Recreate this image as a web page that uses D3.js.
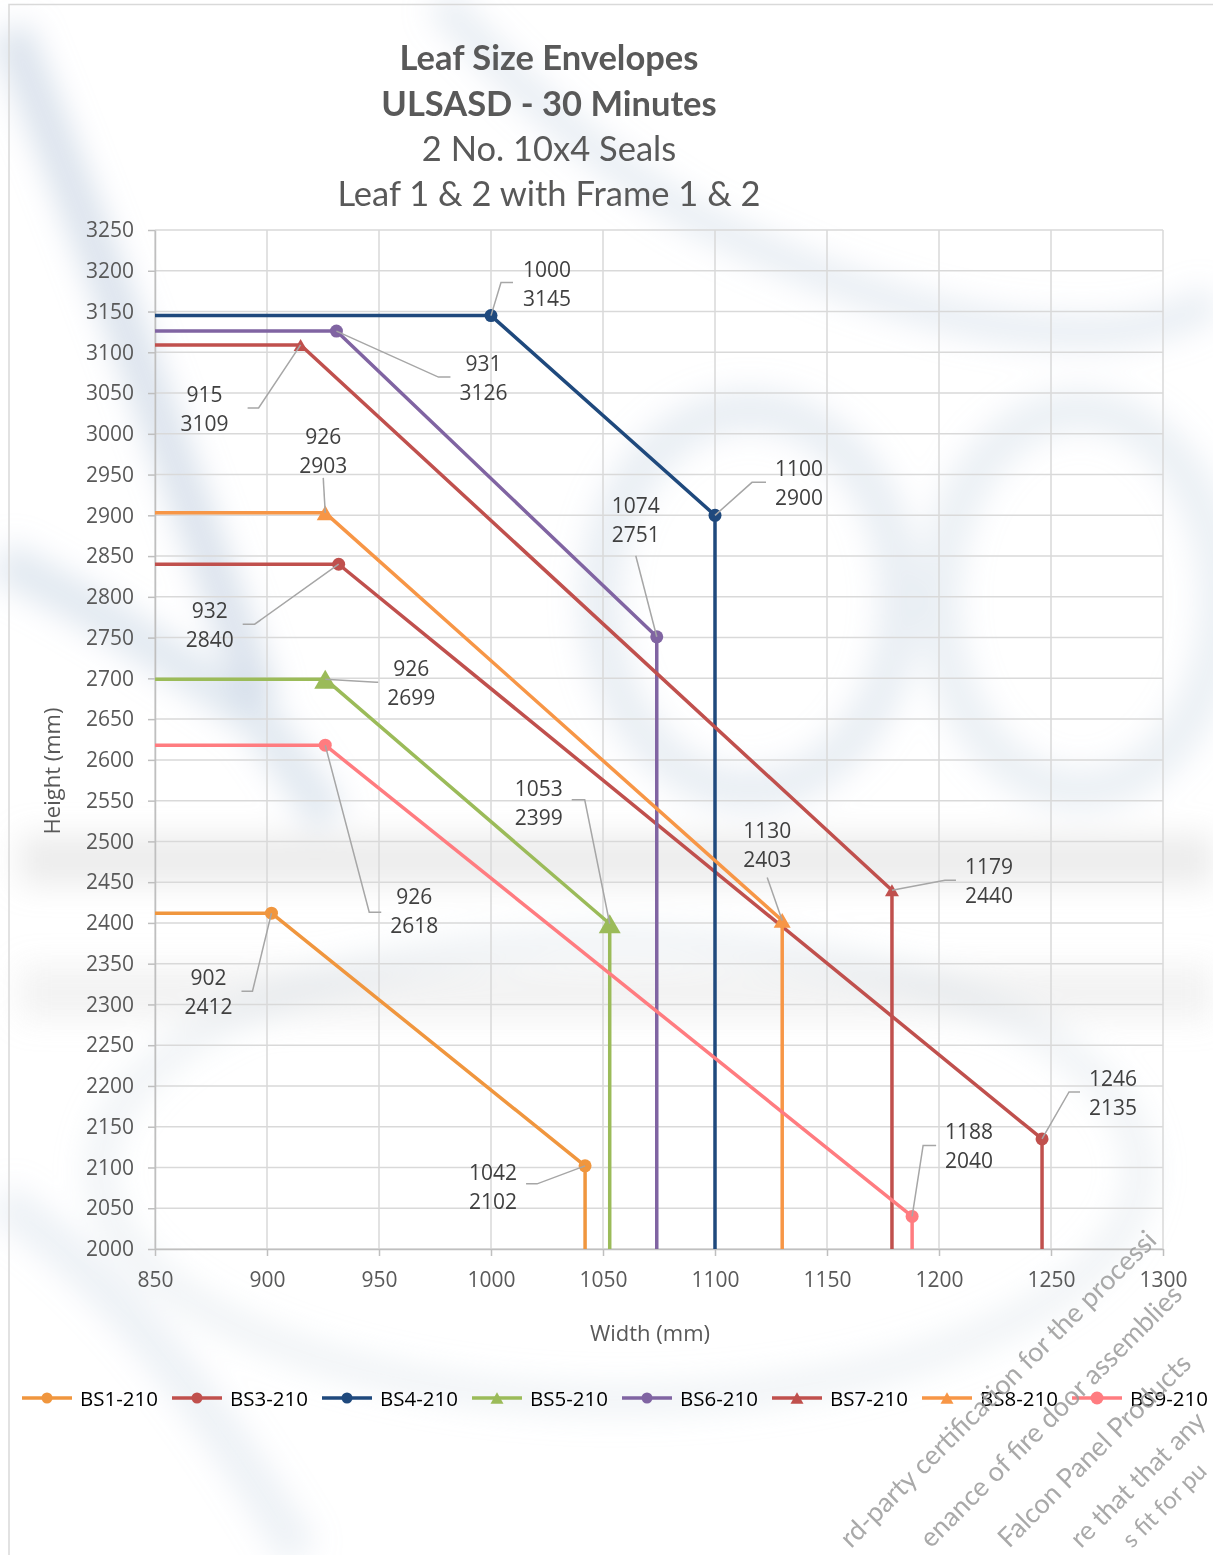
<!DOCTYPE html>
<html><head><meta charset="utf-8">
<script src="https://cdn.jsdelivr.net/npm/d3@7"></script>
<style>body{margin:0;background:#fff;overflow:hidden} svg{display:block}</style>
</head><body><svg id="c" width="1213" height="1555"></svg>
<script>
// ---------- data ----------
const seriesNames = ["BS1-210","BS3-210","BS4-210","BS5-210","BS6-210","BS7-210","BS8-210","BS9-210"];
const widthValues = [
  [850, 902, 1042, 1042],
  [850, 932, 1246, 1246],
  [850, 1000, 1100, 1100],
  [850, 926, 1053, 1053],
  [850, 931, 1074, 1074],
  [850, 915, 1179, 1179],
  [850, 926, 1130, 1130],
  [850, 926, 1188, 1188]
];
const heightValues = [
  [2412, 2412, 2102, 2000],
  [2840, 2840, 2135, 2000],
  [3145, 3145, 2900, 2000],
  [2699, 2699, 2399, 2000],
  [3126, 3126, 2751, 2000],
  [3109, 3109, 2440, 2000],
  [2903, 2903, 2403, 2000],
  [2618, 2618, 2040, 2000]
];
const xTickValues = [850, 900, 950, 1000, 1050, 1100, 1150, 1200, 1250, 1300];
const yTickValues = [2000,2050,2100,2150,2200,2250,2300,2350,2400,2450,2500,2550,2600,2650,2700,2750,2800,2850,2900,2950,3000,3050,3100,3150,3200,3250];
const titleLines = ["Leaf Size Envelopes", "ULSASD - 30 Minutes", "2 No. 10x4 Seals", "Leaf 1 & 2 with Frame 1 & 2"];
const xAxisTitle = "Width (mm)";
const yAxisTitle = "Height (mm)";
// visible parts of the diagonal watermark text
const watermarkLines = [
  "rd-party certification for the processi",
  "enance of fire door assemblies",
  "Falcon Panel Products",
  "re that that any",
  "s fit for pu"
];

// ---------- styles ----------
const seriesColors = ["#F0963E","#C0504D","#1F497D","#9BBB59","#8064A2","#C0504D","#F79646","#FF7C80"];
const markerTypes = ["circle","circle","circle","triangle","circle","triangle","triangle","circle"];
const markerSizes = [6.5, 6.5, 6.5, 22, 6.5, 14, 17, 6.5];
const legendMarkerSizes = [5.5, 5.5, 5.5, 13, 5.5, 13, 13, 6.5];
// label layout: [series, point, labelDx, labelDy, elbowDx, elbowDy, endDx, endDy] (pixels from point)
const labelLayout = [
  [0,1,-63,79,-19,78,-30,78],
  [0,2,-92,21,-48,18,-59,18],
  [1,1,-129,61,-84,60,-96,60],
  [1,2,71,-46,27,-47,38,-47],
  [2,1,56,-32,10,-33,22,-33],
  [2,2,84,-32,37,-33,51,-33],
  [3,1,86,4,51,3,53,3],
  [3,2,-71,-121,-25,-124,-38,-124],
  [4,1,147,47,102,46,114,46],
  [4,2,-21,-117,-21,-81,-21,-81],
  [5,1,-96,64,-42,63,-53,63],
  [5,2,97,-9,53,-10,64,-10],
  [6,1,-2,-62,-2,-35,-2,-35],
  [6,2,-15,-75,-15,-43,-15,-43],
  [7,1,89,166,44,167,56,167],
  [7,2,57,-70,11,-71,24,-71]
];
const wmStarts = [[851,1549],[931,1549],[1009,1549],[1081,1549],[1132,1549]];

const svg = d3.select("#c");
const FONT = "'Open Sans', 'DejaVu Sans', sans-serif";
const TFONT = "Lato, 'Open Sans', sans-serif";

// ---------- watermark background ----------
const defs = svg.append("defs");
defs.append("filter").attr("id","blur").attr("x","-50%").attr("y","-50%").attr("width","200%").attr("height","200%")
  .append("feGaussianBlur").attr("stdDeviation", 15);
const wm = svg.append("g").attr("filter","url(#blur)").attr("fill","none");
const wmBlue = "#b7c8dc";
wm.append("path").attr("d","M 10 30 Q 120 300 260 700").attr("stroke",wmBlue).attr("stroke-width",40).attr("opacity",0.5);
wm.append("path").attr("d","M 440 0 Q 560 140 700 220 Q 900 320 1040 330 Q 1150 340 1213 300").attr("stroke",wmBlue).attr("stroke-width",34).attr("opacity",0.3);
wm.append("path").attr("d","M 0 560 Q 120 620 260 720 L 330 820").attr("stroke",wmBlue).attr("stroke-width",42).attr("opacity",0.4);
wm.append("ellipse").attr("cx",750).attr("cy",600).attr("rx",150).attr("ry",190).attr("stroke",wmBlue).attr("stroke-width",42).attr("opacity",0.3);
wm.append("ellipse").attr("cx",1080).attr("cy",600).attr("rx",140).attr("ry",190).attr("stroke",wmBlue).attr("stroke-width",42).attr("opacity",0.28);
wm.append("rect").attr("x",20).attr("y",835).attr("width",1193).attr("height",50).attr("fill","#c8c8c8").attr("opacity",0.35);
wm.append("rect").attr("x",20).attr("y",965).attr("width",1193).attr("height",55).attr("fill","#d0d0d0").attr("opacity",0.25);
wm.append("ellipse").attr("cx",620).attr("cy",1170).attr("rx",520).attr("ry",230).attr("stroke","#cdd6e2").attr("stroke-width",30).attr("opacity",0.3);
wm.append("path").attr("d","M 0 1200 Q 150 1300 300 1555").attr("stroke",wmBlue).attr("stroke-width",40).attr("opacity",0.25);

// chart border
svg.append("path").attr("d","M 9 1555 L 9 4.5 L 1213 4.5").attr("fill","none").attr("stroke","#D9D9D9").attr("stroke-width",1.5);

// ---------- scales ----------
const x = d3.scaleLinear().domain([850,1300]).range([155,1163]);
const y = d3.scaleLinear().domain([2000,3250]).range([1249,230]);

// gridlines
const grid = svg.append("g");
grid.selectAll("line.v").data(xTickValues).join("line")
  .attr("x1",d=>x(d)).attr("x2",d=>x(d)).attr("y1",y(2000)).attr("y2",y(3250))
  .attr("stroke","#D9D9D9").attr("stroke-width",1.5);
grid.selectAll("line.h").data(yTickValues).join("line")
  .attr("x1",x(850)).attr("x2",x(1300)).attr("y1",d=>y(d)).attr("y2",d=>y(d))
  .attr("stroke","#D9D9D9").attr("stroke-width",1.5);

// axes
const yAxis = svg.append("g").attr("transform",`translate(${x(850)},0)`)
  .call(d3.axisLeft(y).tickValues(yTickValues).tickFormat(d3.format("d")).tickSize(7).tickSizeOuter(0).tickPadding(14));
const xAxis = svg.append("g").attr("transform",`translate(0,${y(2000)})`)
  .call(d3.axisBottom(x).tickValues(xTickValues).tickFormat(d3.format("d")).tickSize(7).tickSizeOuter(0).tickPadding(16));
[xAxis,yAxis].forEach(a=>{
  a.select(".domain").attr("stroke","#BFBFBF").attr("stroke-width",1.5);
  a.selectAll(".tick line").attr("stroke","#BFBFBF").attr("stroke-width",1.5);
  a.selectAll(".tick text").attr("fill","#595959").style("font-family",FONT).style("font-size","21px");
});

// axis titles
svg.append("text").attr("x",650).attr("y",1341).attr("text-anchor","middle")
  .style("font-family",FONT).style("font-size","22px").attr("fill","#595959").text(xAxisTitle);
svg.append("text").attr("transform","translate(60,771) rotate(-90)").attr("text-anchor","middle")
  .style("font-family",FONT).style("font-size","22px").attr("fill","#595959").text(yAxisTitle);

// title
const titleBaselines = [70, 116, 161, 206];
svg.selectAll("text.title").data(titleLines).join("text").attr("class","title")
  .attr("x",549).attr("y",(d,i)=>titleBaselines[i]).attr("text-anchor","middle")
  .style("font-family",TFONT).style("font-size","34.5px").style("font-weight",(d,i)=>i<2?700:400)
  .attr("fill","#595959").text(d=>d);

// ---------- series ----------
function markerPath(type, s){
  if(type==="triangle"){ const h=s*0.866; return `M${-s/2},${h/2}L${s/2},${h/2}L0,${-h/2}Z`; }
  return d3.symbol(d3.symbolCircle, Math.PI*s*s)();
}
const line = d3.line().x(d=>x(d[0])).y(d=>y(d[1]));
const seriesG = svg.append("g");
seriesNames.forEach((name,i)=>{
  const pts = widthValues[i].map((w,j)=>[w, heightValues[i][j]]);
  seriesG.append("path").datum(pts).attr("d",line).attr("fill","none")
    .attr("stroke",seriesColors[i]).attr("stroke-width",3.5).attr("stroke-linejoin","round");
  seriesG.selectAll(null).data(pts.slice(1,3)).join("path")
    .attr("transform",d=>`translate(${x(d[0])},${y(d[1])})`)
    .attr("d",markerPath(markerTypes[i], markerSizes[i])).attr("fill",seriesColors[i]);
});

// ---------- data labels ----------
const labG = svg.append("g");
labelLayout.forEach(([si,pi,ldx,ldy,ex,ey,fx,fy])=>{
  const wv = widthValues[si][pi], hv = heightValues[si][pi];
  const px = x(wv), py = y(hv);
  labG.append("path").attr("d",`M${px},${py}L${px+ex},${py+ey}L${px+fx},${py+fy}`)
    .attr("fill","none").attr("stroke","#A6A6A6").attr("stroke-width",1.5);
  const t = labG.append("text").attr("text-anchor","middle")
    .style("font-family",FONT).style("font-size","21px").attr("fill","#404040");
  t.append("tspan").attr("x",px+ldx).attr("y",py+ldy-7).text(wv);
  t.append("tspan").attr("x",px+ldx).attr("y",py+ldy+22).text(hv);
});

// ---------- legend ----------
const leg = svg.append("g");
seriesNames.forEach((name,i)=>{
  const x0 = 22 + i*150, ly = 1398;
  leg.append("line").attr("x1",x0).attr("x2",x0+50).attr("y1",ly).attr("y2",ly)
    .attr("stroke",seriesColors[i]).attr("stroke-width",3.5);
  leg.append("path").attr("transform",`translate(${x0+25},${ly})`)
    .attr("d",markerPath(markerTypes[i], legendMarkerSizes[i])).attr("fill",seriesColors[i]);
  leg.append("text").attr("x",x0+58).attr("y",ly+7.5)
    .style("font-family",FONT).style("font-size","20.5px").attr("fill","#000").text(name);
});

// ---------- diagonal watermark text (fitted inside the page) ----------
svg.selectAll("text.wm").data(watermarkLines).join("text").attr("class","wm")
  .attr("transform",(d,i)=>`translate(${wmStarts[i][0]},${wmStarts[i][1]}) rotate(-45)`)
  .style("font-family",TFONT).style("font-size","27px").attr("fill","#9a9a9a").attr("opacity",0.85)
  .text(d=>d)
  .each(function(d,i){
    const avail = (1209 - wmStarts[i][0]) * Math.SQRT2;
    let fs = 27;
    while (this.getComputedTextLength() > avail && fs > 14) { fs -= 0.5; d3.select(this).style("font-size", fs+"px"); }
  });
</script>
</body></html>
